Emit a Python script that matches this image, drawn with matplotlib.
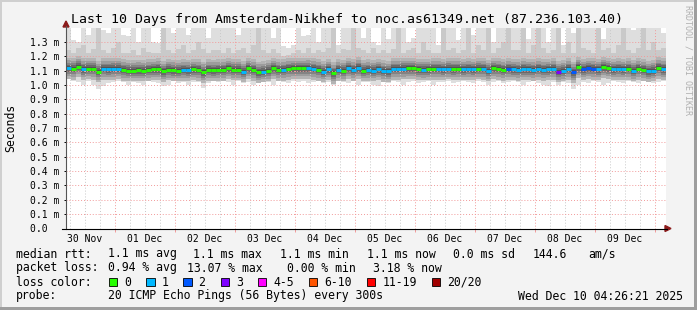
import numpy as np
import matplotlib
matplotlib.use('Agg')
import matplotlib.pyplot as plt
from matplotlib.patches import Rectangle, Polygon
from matplotlib.lines import Line2D

# --- data (ms), one column = 2 hours, starting Nov 30 04:26 ---
t0 = 4.44  # hours after Nov 30 00:00
col_hours = 2.0

median = [
    1.116, 1.112, 1.128, 1.110, 1.114, 1.112, 1.092, 1.111, 1.110, 1.112,
    1.114, 1.104, 1.100, 1.100, 1.102, 1.100, 1.104, 1.108, 1.110, 1.094,
    1.106, 1.102, 1.100, 1.104, 1.102, 1.108, 1.104, 1.088, 1.104, 1.102,
    1.104, 1.104, 1.115, 1.106, 1.106, 1.093, 1.115, 1.104, 1.088, 1.093,
    1.099, 1.115, 1.104, 1.104, 1.111, 1.115, 1.115, 1.115, 1.116, 1.111,
    1.104, 1.093, 1.108, 1.082, 1.104, 1.099, 1.115, 1.104, 1.117, 1.100,
    1.104, 1.100, 1.108, 1.097, 1.094, 1.111, 1.111, 1.113, 1.115, 1.115,
    1.108, 1.106, 1.108, 1.111, 1.111, 1.108, 1.113, 1.110, 1.111, 1.108,
    1.111, 1.108, 1.113, 1.111, 1.099, 1.115, 1.111, 1.104, 1.111, 1.108,
    1.104, 1.110, 1.108, 1.104, 1.111, 1.104, 1.108, 1.111, 1.092, 1.099,
    1.111, 1.088, 1.122, 1.108, 1.115, 1.111, 1.108, 1.122, 1.115, 1.108,
    1.111, 1.108, 1.111, 1.099, 1.111, 1.104, 1.094, 1.100, 1.118, 1.110,
]
loss = [
    1, 0, 0, 1, 0, 0, 0, 1, 1, 1, 1, 0, 0, 0, 0, 0, 0, 0, 0, 0,
    0, 0, 0, 1, 1, 0, 0, 0, 0, 0, 0, 0, 0, 0, 0, 1, 0, 0, 0, 1,
    0, 0, 0, 1, 0, 0, 0, 0, 1, 1, 0, 1, 1, 0, 1, 0, 1, 1, 1, 0,
    1, 1, 1, 1, 1, 1, 1, 1, 0, 0, 0, 1, 0, 0, 1, 1, 1, 0, 0, 1,
    1, 1, 0, 1, 1, 0, 0, 0, 2, 1, 1, 1, 1, 1, 1, 1, 1, 1, 3, 1,
    1, 2, 0, 2, 2, 2, 1, 0, 0, 1, 1, 1, 0, 1, 0, 0, 1, 1, 0, 1,
]
smoke_top = [
    1.42, 1.31, 1.30, 1.42, 1.35, 1.42, 1.42, 1.38, 1.36, 1.42,
    1.42, 1.35, 1.34, 1.42, 1.30, 1.42, 1.42, 1.30, 1.29, 1.42,
    1.42, 1.36, 1.42, 1.42, 1.35, 1.42, 1.40, 1.42, 1.33, 1.42,
    1.42, 1.42, 1.42, 1.42, 1.35, 1.42, 1.42, 1.42, 1.42, 1.42,
    1.42, 1.33, 1.42, 1.27, 1.26, 1.28, 1.42, 1.34, 1.35, 1.42,
    1.30, 1.42, 1.42, 1.42, 1.28, 1.42, 1.42, 1.40, 1.42, 1.33,
    1.42, 1.30, 1.28, 1.42, 1.32, 1.42, 1.42, 1.42, 1.30, 1.33,
    1.42, 1.42, 1.42, 1.42, 1.28, 1.42, 1.42, 1.42, 1.31, 1.42,
    1.42, 1.35, 1.42, 1.42, 1.42, 1.30, 1.42, 1.42, 1.42, 1.42,
    1.42, 1.42, 1.32, 1.42, 1.42, 1.42, 1.30, 1.42, 1.42, 1.28,
    1.42, 1.36, 1.42, 1.42, 1.42, 1.42, 1.42, 1.32, 1.42, 1.42,
    1.40, 1.42, 1.42, 1.38, 1.42, 1.42, 1.42, 1.42, 1.42, 1.36,
]
smoke_mid = [
    1.24, 1.22, 1.26, 1.28, 1.22, 1.25, 1.42, 1.24, 1.22, 1.26,
    1.30, 1.22, 1.22, 1.24, 1.21, 1.26, 1.23, 1.22, 1.22, 1.42,
    1.24, 1.22, 1.25, 1.28, 1.22, 1.24, 1.30, 1.25, 1.22, 1.24,
    1.24, 1.22, 1.26, 1.22, 1.24, 1.26, 1.22, 1.28, 1.42, 1.24,
    1.22, 1.25, 1.22, 1.20, 1.21, 1.22, 1.24, 1.22, 1.26, 1.22,
    1.24, 1.23, 1.26, 1.42, 1.22, 1.25, 1.24, 1.42, 1.26, 1.24,
    1.22, 1.26, 1.22, 1.24, 1.22, 1.25, 1.42, 1.22, 1.24, 1.26,
    1.22, 1.30, 1.24, 1.22, 1.22, 1.42, 1.24, 1.26, 1.22, 1.24,
    1.42, 1.22, 1.28, 1.24, 1.42, 1.22, 1.26, 1.30, 1.42, 1.24,
    1.24, 1.42, 1.22, 1.28, 1.42, 1.26, 1.22, 1.24, 1.42, 1.22,
    1.30, 1.22, 1.42, 1.26, 1.24, 1.22, 1.42, 1.24, 1.26, 1.22,
    1.28, 1.42, 1.24, 1.22, 1.26, 1.42, 1.24, 1.30, 1.24, 1.26,
]
smoke_low = [
    1.04, 1.03, 1.02, 1.00, 1.03, 1.00, 0.97, 0.99, 1.01, 1.02,
    1.03, 1.02, 1.00, 1.02, 1.01, 1.00, 1.03, 1.02, 1.01, 0.99,
    1.00, 1.03, 1.01, 1.02, 1.00, 1.02, 1.02, 0.98, 1.01, 1.03,
    1.02, 1.03, 1.02, 1.00, 1.03, 1.01, 1.02, 1.00, 1.02, 1.03,
    1.02, 1.00, 1.03, 1.02, 1.01, 1.03, 1.02, 1.03, 1.01, 1.02,
    1.03, 1.01, 1.02, 1.00, 1.03, 1.02, 1.01, 1.03, 1.00, 1.02,
    1.02, 1.00, 0.99, 1.02, 1.01, 1.03, 1.02, 1.00, 1.02, 1.03,
    1.01, 1.02, 1.03, 1.00, 1.02, 1.02, 1.03, 1.01, 1.02, 1.03,
    1.02, 1.01, 1.03, 1.02, 1.00, 1.02, 1.03, 1.01, 1.02, 1.03,
    1.02, 1.00, 1.02, 1.03, 1.01, 1.00, 0.99, 1.02, 1.00, 1.02,
    1.01, 0.97, 1.00, 1.02, 1.01, 1.03, 1.02, 1.00, 1.01, 1.03,
    1.02, 1.01, 1.03, 1.02, 1.01, 1.03, 1.02, 1.01, 1.02, 1.03,
]

day_labels = ['30 Nov', '01 Dec', '02 Dec', '03 Dec', '04 Dec',
              '05 Dec', '06 Dec', '07 Dec', '08 Dec', '09 Dec']
loss_names = ['0', '1', '2', '3', '4-5', '6-10', '11-19', '20/20']
loss_colors = ['#26ff00', '#00b8ff', '#0059ff', '#7e00ff',
               '#ff00ff', '#ff5500', '#ff0000', '#a10000']

W, H = 697, 310
MONO = 'DejaVu Sans Mono'
plt.rcParams['font.family'] = MONO


def fx(x):
    return x / W


def fy(y):
    return 1 - y / H


fig = plt.figure(figsize=(W / 100, H / 100), dpi=100, facecolor='#f3f3f3')
ax = fig.add_axes([fx(66), fy(228.5), 600 / W, (228.5 - 27.5) / H])
ax.set_facecolor('white')

med = np.array(median)
top = np.array(smoke_top)
mid = np.array(smoke_mid)
low = np.array(smoke_low)
left = t0 + col_hours * np.arange(len(med))

# smoke layers, outer to inner
ax.bar(left, top - low, bottom=low, width=col_hours, align='edge', color='#dedede', lw=0)
ax.bar(left, mid - (med - 0.06), bottom=med - 0.06, width=col_hours, align='edge', color='#c9c9c9', lw=0)
for lo_off, hi_off, c in [(0.075, 0.075, '#b4b4b4'), (0.055, 0.055, '#9c9c9c'),
                          (0.038, 0.038, '#838383'), (0.024, 0.026, '#6a6a6a'),
                          (0.012, 0.014, '#535353')]:
    ax.bar(left, lo_off + hi_off, bottom=med - lo_off, width=col_hours, align='edge', color=c, lw=0)

ax.hlines(med, left, left + col_hours, colors=[loss_colors[i] for i in loss],
          lw=2.1, zorder=4)

ax.set_xlim(t0, t0 + 240)
ax.set_ylim(0, 1.4)

# grid
dot = (0, (1, 2))
for h in np.arange(6, 246, 6):
    if h % 24:
        ax.axvline(h, color='#c8c8c8', lw=0.7, ls=dot, zorder=3)
for h in np.arange(24, 246, 24):
    ax.axvline(h, color='#f29a9a', lw=0.7, ls=dot, zorder=3)
for v in np.arange(1, 14) / 10:
    ax.axhline(v, color='#f29a9a', lw=0.7, ls=dot, zorder=3)

for s in ax.spines.values():
    s.set_visible(False)

yt = np.arange(0, 14) / 10
ax.set_yticks(yt, ['0.0  '] + ['%.1f m' % v for v in yt[1:]])
ax.tick_params(axis='y', length=1.5, width=0.7, pad=3.4, labelsize=7.05, colors='#000000')
ax.set_xticks(12 + 24 * np.arange(10), day_labels)
ax.set_xticks(24 * np.arange(1, 11), minor=True)
ax.tick_params(axis='x', which='major', length=0, pad=4.2, labelsize=7.05)
ax.tick_params(axis='x', which='minor', length=2, width=0.7, color='#f29a9a')

# axes lines with arrows
fig.add_artist(Line2D([fx(66), fx(66)], [fy(229), fy(26)], color='#555555', lw=0.8))
fig.add_artist(Line2D([fx(62), fx(667)], [fy(228.5), fy(228.5)], color='#000000', lw=0.8))
fig.add_artist(Polygon([[fx(63), fy(27)], [fx(69), fy(27)], [fx(66), fy(21)]],
                       closed=True, color='#8b1a1a'))
fig.add_artist(Polygon([[fx(665), fy(225.5)], [fx(665), fy(231.5)], [fx(671), fy(228.5)]],
                       closed=True, color='#8b1a1a'))

# frame
fig.add_artist(Rectangle((0, fy(2)), 1, 2 / H, color='#cfcfcf', lw=0))
fig.add_artist(Rectangle((0, 0), 2 / W, 1, color='#cfcfcf', lw=0))
fig.add_artist(Rectangle((0, 0), 1, 3 / H, color='#9e9e9e', lw=0))
fig.add_artist(Rectangle((fx(694), 0), 3 / W, 1, color='#9e9e9e', lw=0))

fig.text(fx(347), fy(19), 'Last 10 Days from Amsterdam-Nikhef to noc.as61349.net (87.236.103.40)',
         ha='center', va='center', fontsize=9.5)
fig.text(fx(11), fy(128), 'Seconds', rotation=90, ha='center', va='center', fontsize=8.3)
fig.text(fx(688), fy(60), 'RRDTOOL / TOBI OETIKER', rotation=270, ha='center', va='center',
         fontsize=6, color='#b0b0b0')

fs = 8.3
rows = [
    (254, [(16, 'median rtt:'), (108, '1.1 ms avg'), (193, '1.1 ms max'), (280, '1.1 ms min'),
           (367, '1.1 ms now'), (453, '0.0 ms sd'), (533, '144.6'), (588, 'am/s')]),
    (268, [(16, 'packet loss:'), (108, '0.94 % avg'), (187, '13.07 % max'),
           (287, '0.00 % min'), (373, '3.18 % now')]),
    (282, [(16, 'loss color:')]),
    (296, [(16, 'probe:'), (108, '20 ICMP Echo Pings (56 Bytes) every 300s')]),
]
for y, items in rows:
    for x, s in items:
        fig.text(fx(x), fy(y), s, ha='left', va='center', fontsize=fs)
fig.text(fx(683), fy(296), 'Wed Dec 10 04:26:21 2025', ha='right', va='center', fontsize=fs)

sq_x = [108.5, 146, 183, 220.5, 257.5, 308.5, 367, 432]
for x, c, name in zip(sq_x, loss_colors, loss_names):
    fig.add_artist(Rectangle((fx(x), fy(286)), 8.5 / W, 8 / H, facecolor=c,
                             edgecolor='#000000', lw=0.6))
    fig.text(fx(x + 15.5), fy(282), name, ha='left', va='center', fontsize=fs)

fig.savefig('out.png', dpi=100, facecolor=fig.get_facecolor())
